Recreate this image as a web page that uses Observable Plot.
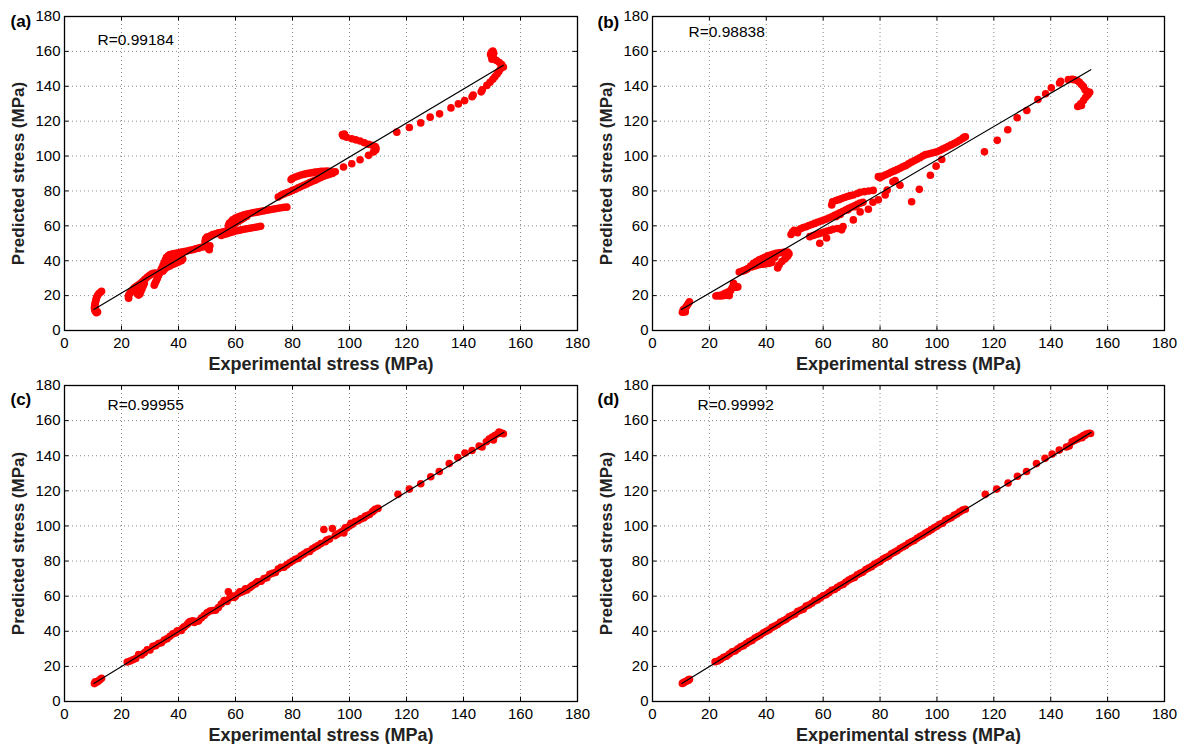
<!DOCTYPE html>
<html><head><meta charset="utf-8">
<script src="https://cdn.jsdelivr.net/npm/d3@7"></script>
<script src="https://cdn.jsdelivr.net/npm/@observablehq/plot@0.6"></script>
<style>
body{margin:0;background:#fff;}
#wrap{position:relative;width:1185px;height:744px;font-family:"Liberation Sans",Arial,sans-serif;}
#wrap svg{position:absolute;overflow:visible;}
</style></head><body><div id="wrap"></div>
<script>
// ---------- data ----------
const tickValues = [0,20,40,60,80,100,120,140,160,180];
const xTitle = "Experimental stress (MPa)";
const yTitle = "Predicted stress (MPa)";
const tags = ["(a)","(b)","(c)","(d)"];
const rLabels = ["R=0.99184","R=0.98838","R=0.99955","R=0.99992"];

const fitA = [[10.3,12],[154,152]];
const fitB = [[10.2,12],[154.1,149.5]];
const fitC = [[10.3,10.3],[154.2,153.4]];
const fitD = [[10.3,10.3],[154.2,153.3]];

// [experimental, predicted]
const dataA = [
[11.2,10.2],[11.6,10.6],[10.8,11],[10.6,12],[10.5,13],[10.6,14],[10.7,15],[10.8,16],[11,17],[11.1,18],[11.3,19],[11.6,20],[12,21],[12.5,21.8],[13,22.5],[10.9,12.5],
[22.5,18.5],[22.4,19.5],[22.6,20.5],[23,21.5],[23.5,22.5],[24,23.5],[24.5,24.5],[25.2,25.3],[26,26.2],[26.8,27.2],[27.5,28.2],[28.2,29.3],[29,30.5],[29.8,31.5],[30.5,32.3],[31.2,32.8],[32,33],
[25.5,21],[26,20.3],[26.5,21],[26.8,22.5],[27.2,24],[27.6,25.5],[28,27],
[31.5,26],[31.8,27.2],[32.2,28.5],[32.6,30],[33,31.5],[33.4,33],[33.8,34.5],[34.2,36],[34.6,37.5],[35,39],[35.4,40.5],[35.8,42],[36.5,43],
[37,43.5],[38,44],[39,44.3],[40,44.6],[41,45],[42,45.3],[43,45.6],[44,46],[45,46.3],[46,46.8],[47,47.2],[48,47.7],[49,48],[50,48.3],[51,48.6],
[34.5,34],[35,35],[36,36.2],[37,37],[38,37.8],[39,38.5],[40,39.2],[41,40],[41.5,41],[36,38],[37,39.5],[38,40.5],[39,41.2],[40,42],[41,42.5],
[50.5,47],[50.8,46.3],
[49.3,51],[49.5,52.5],[50,53.5],[51,54.2],[52,55],[53,55.5],[54,56],[55,56.3],[56,56.7],[57,57.2],
[55,54.5],[56,55],[57,55.5],[58,56],[59,56.5],[60,57],[61,57.3],[62,57.7],[63,58],[64,58.3],[65,58.6],[66,58.9],[67,59.2],[68,59.5],[68.8,59.8],
[57.5,60],[57.8,61.5],[58.5,62.5],[59,63.5],[60,64.5],[61,65.2],[62,65.8],[63,66.3],[64,66.7],[65,67.1],[66,67.4],[67,67.7],[68,68],[69,68.3],[70,68.6],[71,68.9],[72,69.2],[73,69.5],[74,69.8],[75,70.1],[76,70.4],[77,70.6],[78,70.7],
[59,60.5],[60,61.5],[61,62.5],[62,63.5],[63,64.5],[64,65.5],
[75,76.5],[76,77.5],[77,78.3],[78,79],[79,79.5],[80,80.3],[81,81],[82,81.8],[83,82.5],[84,83.3],[85,84],[86,84.8],[87,85.5],[88,86.2],[89,87],[90,87.7],[91,88.4],[92,89],[93,89.5],[94,90],[95,91],
[79.5,86.5],[80,87.3],[81,88],[82,88.6],[83,89.1],[84,89.5],[85,89.9],[86,90.2],[87,90.5],[88,90.8],[89,91],[90,91.2],[91,91.3],[92,91.4],[93,91.2],[94,90.8],
[97.9,93.7],[100.8,95.6],[103.7,97.9],[106.7,100.4],[108.4,102.3],[109.2,103.5],[109.3,104.6],[109,105.5],[108,106.2],[106.7,106.7],[105.2,107.6],[103.7,108.6],[102.2,109.3],[100.8,109.9],[99,110.8],[97.8,111.5],[97.5,112.3],[98.2,112.6],
[116.6,113.7],[121,116.4],[125,119],[128.3,122.3],[131.6,124.2],[135.6,127.6],[138.2,129.9],[140.4,131.8],[143,134],[143.4,135],[146.2,136.8],[146.6,138],[148.2,140.5],[149.3,142.3],[150.3,144],[151,145.5],[151.8,147],[152.4,148.5],[153,150],[154,151],[153.4,152.5],[152.6,153.6],[151.6,154.8],[150.6,156],[149.8,157],[149.5,158.3],[149.8,159.5],[150.3,160.2],[150.6,159],[150,155.5]
];

const dataB = [
[10.5,10.5],[11,10.8],[11.5,11.2],[10.8,11.8],[11.3,12.5],[11.8,13.5],[12.2,14.5],[12.6,15.5],[13,16.5],[11.5,10.6],
[22.3,19.8],[23,20],[23.5,20],[24.5,20.5],[25.5,21.3],[26,20.3],[27,20],[26.5,22],[27.5,23],[28,24.5],[28.5,26],[28.5,27],[29,25],[29.5,24.8],[30,25],[25,20],[24,19.8],
[30.5,33.5],[31.5,34],[32.5,34.5],[33.5,35.5],[34.5,37],[35.5,38.5],[36.5,39.5],[37.5,40.5],[38.5,41.3],[39.5,42],[40.5,42.8],[41.5,43.3],[42.5,43.8],[43.5,44.2],[44.5,44.5],[45.5,44.7],[46.5,45],[47.5,45],[48,44],[47.5,42.5],[46.5,41],[45.5,39.5],[44.5,37.5],[44,35.8],[36,37],[37,37.5],[38,37.8],[39,38],[40,38.3],[41,38.5],[42,39],[38,39],[40,40.5],[35,36.5],[33,35],[32,34.3],[41,41.5],[43,42],
[48.7,55],[49.2,56.5],[49.8,57.5],[50.5,57],[51,56],[52,58.3],[53,59],[54,59.5],[55,60.2],[56,60.8],[57,61.4],[58,62],[59,62.6],[60,63.2],[61,63.8],[62,64.5],[63,65.2],[64,66],[65,66.8],[66,67.6],[67,68.4],[68,69.2],[69,70],[70,70.8],[71,71.5],[72,72.3],[73,73],
[63,72],[63.3,73.8],[64.5,74.5],[65.5,75],[66.5,75.6],[67.5,76.2],[68.5,76.8],[69.5,77.3],[70.6,77.7],[72,78.5],[73,79.2],[74.5,79.6],[76,80],[77.6,80.3],
[55.3,53.8],[56.5,54.5],[57.5,55],[58.5,55.5],[59.5,56],[60.5,56.5],[61.5,57],[62.5,57.5],[63.5,58],[65,58.5],[66.5,58.8],[67,59.6],[58.8,50],[61.2,53],[66.5,57.7],[70.6,63.4],[73,68],[75.9,69.5],[77.5,73.5],[79.4,74.9],[81.8,77.7],
[64.6,65.3],[66,66.5],[68.6,69.1],[71.2,71],[74,73.5],
[79.4,88.2],[80,87.5],[81,88.5],[82,89.3],[83,90],[84,90.8],[85,91.5],[86,92.2],[87,93],[88,93.8],[89,94.5],[90,95.5],[91,96.5],[92,97.3],[93,98.2],[94,99],[95,100],[96,100.8],[97,101.2],[98,101.6],[99,102],[100,102.5],[101,103.2],[102,104],[103,104.8],[104,105.6],[105,106.4],[106,107.2],[107,108],[108,109],[109,110],[109.5,110.8],[110,111],
[84.5,85.2],[87,83.3],[91.1,73.8],[93.8,80.9],[97.7,89],[99.7,94.2],[101.7,98],[85.3,86],[82.5,80.5],
[116.7,102.4],[121.2,109],[124.9,115.1],[128.2,122],[131.6,126.1],[135.5,132.4],[138.2,135.7],[140.2,139.1],[143.1,141.9],[143.5,142.9],[146.2,143.8],[147.5,144],[148.1,143.8],[149.3,143.3],[150.1,142.3],[150.8,141],[151.5,139.8],[152.1,137.9],[153,136.8],[153.7,136.6],[153.2,135.5],[152.8,134.7],[152.2,133.5],[151.5,131.8],[150.5,130],[149.5,128.4],[150.8,129],[150,128.8]
];

const dataC = [
[10.5,10.2],[10.8,11.2],[11,10.8],[11.5,11.3],[12,11.8],[12.5,12.5],[13,13.2],
[22,22.5],[23,23],[24,23.8],[25,24.5],[26,26.8],[27,26.5],[28,27.8],[29,29.5],[30,29.3],[31,31.5],[32,31.8],[33,33],[34,33.5],[35,35],[36,35.8],[37,37.2],[38,38.5],[39,39],[40,40.3],[41,40.5],[42,42.5],[43,43.8],[44,45.5],[45,46],[46,45.5],[47,45.8],[48,47.5],[49,49],[50,50.5],[51,51.5],[52,51.8],[53,52],[54,53.5],[55,55.5],[56,57.5],[57,57],[57.5,62.5],[58,59],[59,60],[60,60],[61,61.5],[62,62.3],[63,63],[64,63.5],[65,64.8],[66,66.2],[67,67],[68,68.2],[69,68.5],[70,70],[71,70.5],[72,72.5],[73,73],[74,73.5],[75,75.5],[76,76.5],[77,76.5],[78,77.8],[79,79],[80,80],[81,81],[82,81.5],[83,83],[84,84],[85,85.2],[86,85.5],[87,87],[88,88],[89,88.8],[90,90],[91,98],[91.5,91],[92,92],[93,92.5],[94,98.5],[95,94.5],[96,95.5],[97,96.5],[98,97.5],[98.5,99],[99,98.8],[100,100],[101,101],[102,102.5],[103,103],[104,104],[105,104.5],[106,105.8],[107,106.5],[108,108],[109,109.5],[110,110],
[39.5,40.2],[41.5,41.8],[43.5,44.8],[45.5,45],[59.5,59.3],[61.5,62.5],[63.5,64.2],[65.5,65.5],[67.5,68],[98,96],[100.5,101.5],[105.5,105.5],[108.5,108.6],
[117,118],[121,121],[125,124],[128.5,128],[131.5,131],[135,135.5],[138,139],[140.5,141.5],[143,143],[145.5,145.5],[146.5,145],[148,148],[149,149.5],[150,150.5],[151,151.5],[152,152.5],[153,153],[154,152.5],[152.5,153.5],[150.5,149],[153.5,152.8]
];

const dataD = [
[10.5,10.3],[10.8,10.5],[11,10.9],[11.5,11.2],[12,11.7],[12.5,12.2],[13,12.7],[12.7,12.1],
[22,22.6],[23,23.1],[24,24],[25,25.2],[26,25.8],[27,27],[28,28.3],[29,28.8],[30,30],[31,31.2],[32,31.8],[33,33],[34,34.1],[35,34.8],[36,36.2],[37,37],[38,37.9],[39,39.1],[40,40],[41,40.8],[42,42.2],[43,43],[44,43.9],[45,45.2],[46,46],[47,46.8],[48,48.2],[49,49],[50,49.7],[51,51.2],[52,52],[53,52.6],[54,54.3],[55,55],[56,56],[57,57.3],[58,57.8],[59,59],[60,60.2],[61,60.8],[62,62],[63,63.3],[64,63.8],[65,65],[66,66.1],[67,66.7],[68,68],[69,69.2],[70,70],[71,70.7],[72,72.2],[73,73],[74,73.7],[75,75.2],[76,76],[77,76.8],[78,78.1],[79,79],[80,79.8],[81,81.2],[82,82],[83,82.7],[84,84.1],[85,85],[86,85.8],[87,87.1],[88,88],[89,88.8],[90,90.1],[91,91],[92,91.7],[93,93],[94,94],[95,94.8],[96,96],[97,96.8],[98,97.9],[99,99],[100,99.8],[101,101],[102,101.5],[103,103.2],[104,104],[105,104.7],[106,106],[107,106.8],[108,108],[109,109],[110,109.5],
[117,118],[121,121],[125,124.5],[128.3,128.3],[131.5,131],[135,135.5],[138,138.5],[140.5,141],[143,143.2],[145.5,145],[146.5,145.5],[147.5,148],[148.5,148.8],[149.5,149.5],[150.5,150.5],[151.5,151.5],[152.5,152.3],[153.5,152.8],[154,152.7],[151,150.3],[152,151.5]
];

// ---------- drawing ----------
const wrap = document.getElementById("wrap");
const FONT = "'Liberation Sans', Arial, Helvetica, sans-serif";

function panel(o){
  const grid = {stroke:"#8a8a8a", strokeOpacity:1, strokeWidth:1, strokeDasharray:"1,3"};
  const svg = Plot.plot({
    width: o.w, height: 372,
    marginLeft: o.ml, marginRight: o.mr, marginTop: o.mt, marginBottom: o.mb,
    x: {domain:[0,180]}, y: {domain:[0,180]},
    style: {fontFamily: FONT, background:"transparent", color:"#000", overflow:"visible"},
    marks: [
      Plot.gridX(tickValues, grid),
      Plot.gridY(tickValues, grid),
      Plot.axisX(tickValues, {anchor:"bottom", tickSize:0, tickPadding:7, fontSize:15, label:null}),
      Plot.axisY(tickValues, {anchor:"left", tickSize:0, tickPadding:4, fontSize:15, label:null}),
      Plot.ruleX(tickValues, {x:d=>d, y1:0, y2:2.5, stroke:"#000"}),
      Plot.ruleX(tickValues, {x:d=>d, y1:177.5, y2:180, stroke:"#000"}),
      Plot.ruleY(tickValues, {y:d=>d, x1:0, x2:1.6, stroke:"#000"}),
      Plot.ruleY(tickValues, {y:d=>d, x1:178.4, x2:180, stroke:"#000"}),
      Plot.dot(o.data, {x:d=>d[0], y:d=>d[1], r:3.8, fill:"#ff0000", stroke:"none"}),
      Plot.line(o.fit, {x:d=>d[0], y:d=>d[1], stroke:"#000", strokeWidth:1.2}),
      Plot.frame({stroke:"#000", strokeWidth:1.3}),
      Plot.text([o.r], {frameAnchor:"top-left", dx:o.rdx, dy:o.rdy, textAnchor:"start", lineAnchor:"middle", fontSize:15.5, fill:"#000"}),
      Plot.text([o.tag], {frameAnchor:"top-left", dx:o.tdx, dy:o.tdy, textAnchor:"start", lineAnchor:"middle", fontSize:17, fontWeight:"bold", fill:"#000"}),
      Plot.text([xTitle], {frameAnchor:"bottom", dy:34, textAnchor:"middle", lineAnchor:"middle", fontSize:18, fontWeight:"bold", fill:"#222"}),
      Plot.text([yTitle], {frameAnchor:"left", dx:-46, rotate:-90, textAnchor:"middle", lineAnchor:"middle", fontSize:17, fontWeight:"bold", fill:"#222"})
    ]
  });
  svg.style.left = o.left + "px";
  svg.style.top = o.top + "px";
  wrap.appendChild(svg);
}

panel({left:0, top:0, w:592, ml:64, mr:15, mt:16, mb:42, data:dataA, fit:fitA, r:rLabels[0], tag:tags[0], rdx:33, rdy:24, tdx:-54, tdy:5});
panel({left:592, top:0, w:593, ml:60, mr:21, mt:16, mb:42, data:dataB, fit:fitB, r:rLabels[1], tag:tags[1], rdx:36, rdy:16, tdx:-55, tdy:6});
panel({left:0, top:372, w:592, ml:64, mr:15, mt:13, mb:43, data:dataC, fit:fitC, r:rLabels[2], tag:tags[2], rdx:43, rdy:20, tdx:-54, tdy:14});
panel({left:592, top:372, w:593, ml:60, mr:21, mt:13, mb:43, data:dataD, fit:fitD, r:rLabels[3], tag:tags[3], rdx:45, rdy:20, tdx:-55, tdy:14});
</script>
</body></html>
